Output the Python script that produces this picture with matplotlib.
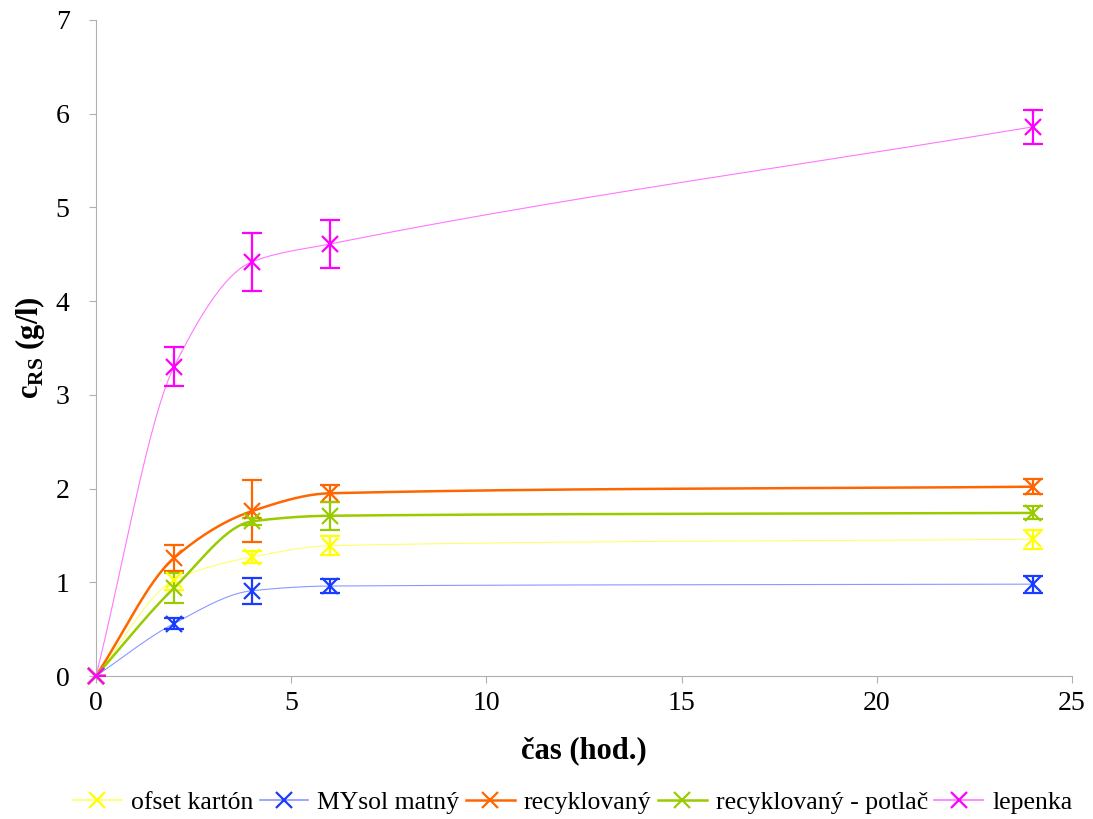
import numpy as np
import matplotlib
matplotlib.use("Agg")
import matplotlib.pyplot as plt
from matplotlib.lines import Line2D

plt.rcParams['font.family'] = ['Liberation Serif', 'DejaVu Serif']
plt.rcParams['mathtext.fontset'] = 'custom'
plt.rcParams['mathtext.rm'] = 'Liberation Serif'
plt.rcParams['mathtext.bf'] = 'Liberation Serif:bold'

# cas odberu vzorky (hod.)
t = [0, 2, 4, 6, 24]

names = ["ofset kartón", "MYsol matný", "recyklovaný", "recyklovaný - potlač", "lepenka"]

ofset = [0, 1.02, 1.27, 1.39, 1.46]
ofset_err = [0, 0.10, 0.06, 0.10, 0.10]
mysol = [0, 0.56, 0.91, 0.96, 0.98]
mysol_err = [0, 0.06, 0.14, 0.07, 0.09]
recykl = [0, 1.26, 1.76, 1.95, 2.02]
recykl_err = [0, 0.14, 0.33, 0.09, 0.08]
potlac = [0, 0.94, 1.65, 1.71, 1.74]
potlac_err = [0, 0.16, 0.04, 0.15, 0.07]
lepenka = [0, 3.30, 4.42, 4.61, 5.86]
lepenka_err = [0, 0.21, 0.31, 0.26, 0.18]

series = [ofset, mysol, recykl, potlac, lepenka]
errs = [ofset_err, mysol_err, recykl_err, potlac_err, lepenka_err]
mark_colors = ["#ffff00", "#1a3cff", "#ff6600", "#99cc00", "#ff00ff"]
line_colors = ["#ffff66", "#8899ff", "#ff6600", "#99cc00", "#ff77ff"]
line_widths = [0.8, 0.8, 1.8, 1.8, 0.8]


def pchip(x, y, xs):
    # monotonna kubicka interpolacia (Fritsch-Carlson) pre hladku krivku
    x = np.asarray(x, float)
    y = np.asarray(y, float)
    h = np.diff(x)
    d = np.diff(y) / h
    m = np.zeros_like(y)
    m[0] = d[0]
    m[-1] = d[-1]
    for i in range(1, len(x) - 1):
        if d[i - 1] * d[i] > 0:
            w1 = 2 * h[i] + h[i - 1]
            w2 = h[i] + 2 * h[i - 1]
            m[i] = (w1 + w2) / (w1 / d[i - 1] + w2 / d[i])
    out = np.empty_like(xs)
    for j, xv in enumerate(xs):
        k = min(np.searchsorted(x, xv, side='right') - 1, len(x) - 2)
        s = (xv - x[k]) / h[k]
        h00 = 2 * s**3 - 3 * s**2 + 1
        h10 = s**3 - 2 * s**2 + s
        h01 = -2 * s**3 + 3 * s**2
        h11 = s**3 - s**2
        out[j] = h00 * y[k] + h10 * h[k] * m[k] + h01 * y[k + 1] + h11 * h[k] * m[k + 1]
    return out


fig = plt.figure(figsize=(10.93, 8.19), dpi=100)
ax = fig.add_axes([0.0878, 0.1746, 0.893, 0.801])

xs = np.linspace(0, 24, 400)
handles = []
for y, e, mc, lc, lw, name in zip(series, errs, mark_colors, line_colors, line_widths, names):
    ax.plot(xs, pchip(t, y, xs), color=lc, lw=lw, zorder=2, clip_on=False)
    eb = ax.errorbar(t, y, yerr=e, fmt='x', color=mc, ms=11, mew=1.6,
                     elinewidth=1.6, capsize=7, capthick=1.6, zorder=3)
    eb.lines[0].set_clip_on(False)
    handles.append(Line2D([], [], color=lc, lw=max(lw, 1.2), marker='x',
                          markeredgecolor=mc, ms=11, mew=1.6))

ax.set_xlim(0, 25)
ax.set_ylim(0, 7)
ax.set_xticks([0, 5, 10, 15, 20, 25])
ax.set_yticks(range(0, 8))
ax.tick_params(labelsize=20, length=5, color='#b0b0b0')
ax.tick_params(axis='y', pad=14)
ax.tick_params(axis='x', pad=6)
for s in ['top', 'right']:
    ax.spines[s].set_visible(False)
for s in ['left', 'bottom']:
    ax.spines[s].set_color('#b0b0b0')

ax.set_xlabel("čas (hod.)", fontsize=22, fontweight='bold', labelpad=14)
ax.set_ylabel(r"$\mathbf{c}_{\mathbf{RS}}$ (g/l)", fontsize=22, fontweight='bold', labelpad=6)

fig.legend(handles, names, loc='lower center', bbox_to_anchor=(0.524, -0.022), ncol=5,
           frameon=False, fontsize=18.5, handlelength=1.9, handletextpad=0.35,
           columnspacing=0.25)

fig.savefig("out.png", dpi=100)
